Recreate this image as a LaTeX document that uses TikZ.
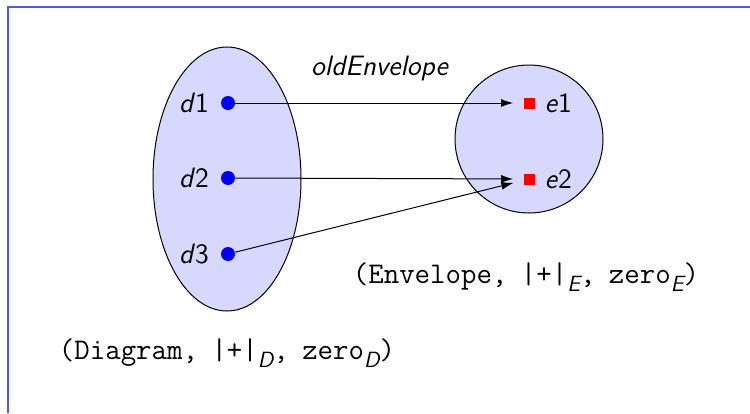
\documentclass[tikz,border=0pt]{standalone}
\usetikzlibrary{arrows.meta}
\definecolor{framecol}{RGB}{85,85,240}
\definecolor{setfill}{RGB}{216,216,255}
\definecolor{ptblue}{RGB}{0,0,255}
\definecolor{ptred}{RGB}{255,0,0}
\newcommand{\mv}[1]{\textsf{\textit{#1}}}
\newcommand{\sub}[1]{\raisebox{-0.25em}{\fontsize{11}{12}\selectfont\sffamily\itshape #1}}
\newcommand{\gap}{\hspace{0.45em}}
\begin{document}
\begin{tikzpicture}[x=0.5pt,y=-0.5pt,
  font=\fontsize{14}{16}\selectfont\sffamily,
  setshape/.style={draw=black,fill=setfill,line width=0.5pt},
  dpoint/.style={circle,fill=ptblue,minimum size=7pt,inner sep=0pt},
  epoint/.style={rectangle,fill=ptred,minimum size=5.5pt,inner sep=0pt},
  mapsto/.style={-{Latex[length=6pt,width=4pt]},line width=0.5pt,shorten >=5pt},
  tuple/.style={font=\fontsize{15}{17}\selectfont\ttfamily}
]
\useasboundingbox (0,0) rectangle (750,413);
% frame edge
\draw[framecol,line width=0.6pt] (8,413) -- (8,7) -- (750,7);

% the two sets
\draw[setshape] (227,179) ellipse [x radius=74, y radius=132];
\draw[setshape] (529,139) circle [radius=74];

% diagram points
\node[dpoint,label={[label distance=2.3pt]left:\mv{d}1}] (d1) at (228,103) {};
\node[dpoint,label={[label distance=2.3pt]left:\mv{d}2}] (d2) at (228,178) {};
\node[dpoint,label={[label distance=2.3pt]left:\mv{d}3}] (d3) at (228,254) {};

% envelope points
\node[epoint,label={[label distance=1.5pt]right:\mv{e}1}] (e1) at (529,103) {};
\node[epoint,label={[label distance=1.5pt]right:\mv{e}2}] (e2) at (529,179) {};

% the map
\draw[mapsto] (d1) -- (e1);
\draw[mapsto] (d2) -- (e2);
\draw[mapsto] (d3) -- (e2);
\node (map) at (380,68) {\mv{oldEnvelope}};

% structure labels
\node[tuple] (etuple) at (526,277) {(Envelope,\gap|+|\sub{E},\gap zero\sub{E})};
\node[tuple] (dtuple) at (227,353) {(Diagram,\gap|+|\sub{D},\gap zero\sub{D})};
\end{tikzpicture}
\end{document}
